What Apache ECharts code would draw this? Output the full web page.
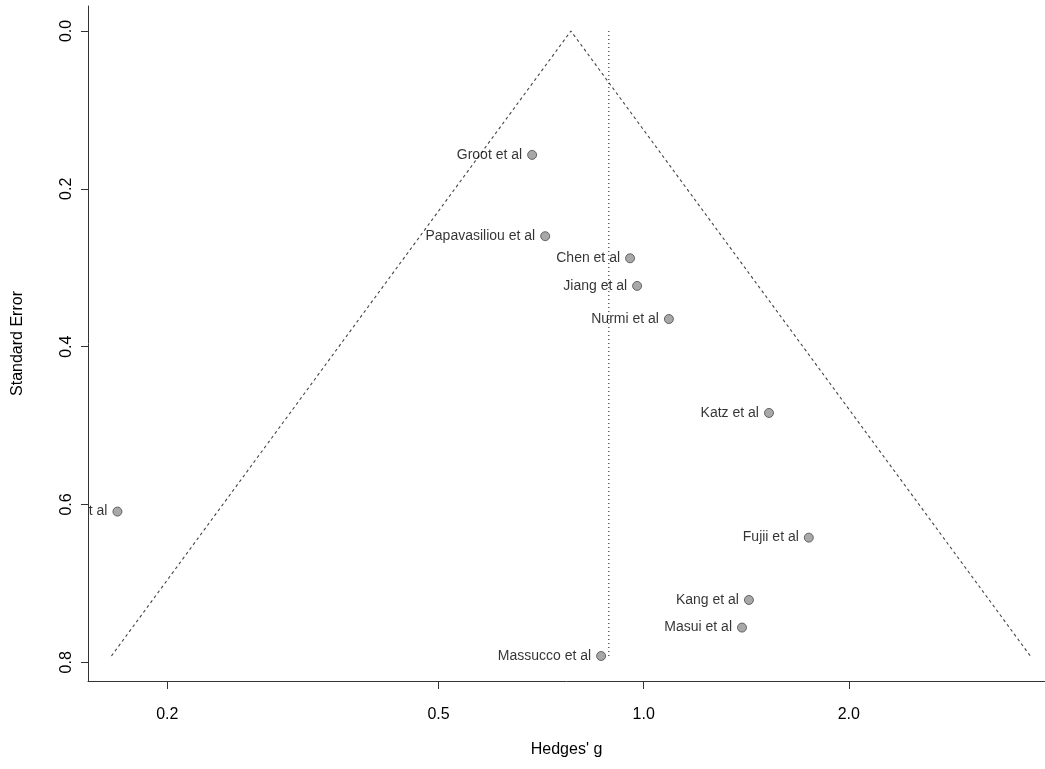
<!DOCTYPE html>
<html>
<head>
<meta charset="utf-8">
<script src="https://cdn.jsdelivr.net/npm/echarts@6/dist/echarts.min.js"></script>
<style>
  html, body { margin: 0; padding: 0; background: #ffffff; }
  #chart { width: 1045px; height: 769px; }
</style>
</head>
<body>
<div id="chart"></div>
<script>
// Study labels, effect sizes (Hedges' g) and standard errors
const studies = ['Groot et al', 'Papavasiliou et al', 'Chen et al', 'Jiang et al', 'Nurmi et al',
                 'Katz et al', 't al', 'Fujii et al', 'Kang et al', 'Masui et al', 'Massucco et al'];
const hedgesG = [0.686, 0.717, 0.955, 0.978, 1.089, 1.527, 0.169, 1.747, 1.427, 1.394, 0.866];
const stdErr  = [0.157, 0.260, 0.288, 0.323, 0.365, 0.484, 0.609, 0.642, 0.721, 0.756, 0.792];

// Pooled estimate (funnel apex) and the dotted reference line
const pooledG = 0.782;
const referenceG = 0.889;

// Axis ticks
const xTicks = [0.2, 0.5, 1.0, 2.0];
const yTicks = [0.0, 0.2, 0.4, 0.6, 0.8];

// x range (Hedges' g, drawn on a log scale)
const xRange = [0.153, 3.88];

const seMax = Math.max(...stdErr);
const center = Math.log(pooledG);
const font = "'Liberation Sans', Arial, sans-serif";

const chart = echarts.init(document.getElementById('chart'), null, { renderer: 'canvas' });

chart.setOption({
  backgroundColor: '#ffffff',
  animation: false,
  grid: { left: 88, right: 0, top: 6, bottom: 88, containLabel: false },
  xAxis: {
    type: 'value',
    min: Math.log(xRange[0]),
    max: Math.log(xRange[1]),
    name: "Hedges' g",
    nameLocation: 'middle',
    nameGap: 61,
    nameTextStyle: { fontFamily: font, fontSize: 16, color: '#000' },
    axisLine: { show: true, onZero: false, lineStyle: { color: '#333', width: 1 } },
    axisTick: { show: true, length: 8, customValues: xTicks.map(Math.log), lineStyle: { color: '#333' } },
    axisLabel: {
      customValues: xTicks.map(Math.log),
      formatter: v => Math.exp(v).toFixed(1),
      fontFamily: font, fontSize: 16, color: '#000', margin: 26
    },
    splitLine: { show: false }
  },
  yAxis: {
    type: 'value',
    inverse: true,
    min: -0.04 * seMax,
    max: 1.04 * seMax,
    name: 'Standard Error',
    nameLocation: 'middle',
    nameRotate: 90,
    nameGap: 62,
    nameTextStyle: { fontFamily: font, fontSize: 16, color: '#000' },
    axisLine: { show: true, onZero: false, lineStyle: { color: '#333', width: 1 } },
    axisTick: { show: true, length: 7, customValues: yTicks, lineStyle: { color: '#333' } },
    axisLabel: {
      customValues: yTicks,
      rotate: 90,
      formatter: v => v.toFixed(1),
      fontFamily: font, fontSize: 16, color: '#000', margin: 13
    },
    splitLine: { show: false }
  },
  series: [
    {
      // funnel: pooled estimate +/- 1.96 * SE on the log scale
      type: 'line',
      symbol: 'none',
      silent: true,
      data: [
        [center - 1.96 * seMax, seMax],
        [center, 0],
        [center + 1.96 * seMax, seMax]
      ],
      lineStyle: { color: '#444', width: 1.1, type: [3, 3] },
      z: 1
    },
    {
      type: 'line',
      symbol: 'none',
      silent: true,
      data: [[Math.log(referenceG), 0], [Math.log(referenceG), seMax]],
      lineStyle: { color: '#111', width: 1, type: [1, 3] },
      z: 1
    },
    {
      type: 'scatter',
      symbol: 'circle',
      symbolSize: 9,
      data: hedgesG.map((g, i) => [Math.log(g), stdErr[i], studies[i]]),
      itemStyle: { color: '#929292', borderColor: '#4a4a4a', borderWidth: 1 },
      label: {
        show: true,
        position: 'left',
        distance: 5,
        formatter: p => p.data[2],
        fontFamily: font,
        fontSize: 14,
        color: '#000'
      },
      z: 3
    }
  ]
});
</script>
</body>
</html>
